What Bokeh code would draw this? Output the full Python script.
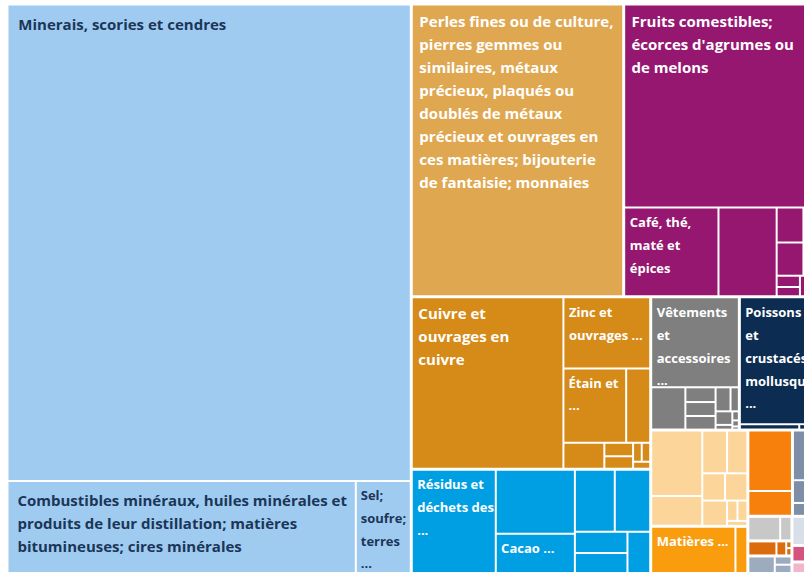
from bokeh.plotting import figure
from bokeh.models import Range1d, ColumnDataSource
from bokeh.embed import file_html
from bokeh.resources import INLINE
from bokeh.core.properties import value

# ---------------- data (relative sizes) ----------------
group_names = [
    "Minerais / combustibles / sel", "Perles fines", "Fruits / café", "Cuivre / zinc / étain",
    "Résidus / cacao", "Vêtements", "Poissons", "Groupe pêche", "Matières",
    "Groupe orange", "Groupe ardoise", "Groupe gris clair", "Groupe orange foncé",
    "Groupe gris-bleu", "Groupe bleu pâle", "Groupe rose", "Groupe rose 2",
    "Groupe rose pâle", "Groupe rose très pâle",
]
group_colors = [
    "#a0cbf0", "#dfa74f", "#95176f", "#d68a18", "#009fe3", "#7f7f7f", "#0c2c52",
    "#fcd59b", "#f99d0e", "#f77f0b", "#7f8ea7", "#c8c8c8", "#db6b0c", "#9dabbf",
    "#d8dfe8", "#d4547f", "#e07aa0", "#f2b6ca", "#f7d3df",
]
group_text_colors = ["#1b3658"] + ["#ffffff"] * 18

leaf_values = [
    [192066, 32062, 5060],
    [61904],
    [39687, 8410, 5189, 945, 550, 891, 518, 264, 216, 200, 193],
    [26144, 6220, 4686, 1795, 1066, 389, 360, 165, 161, 120],
    [8757, 5123, 3124, 2500, 2219, 1128, 1059, 946],
    [8009, 1466, 451, 427, 418, 364, 203, 231, 80, 60, 40, 21],
    [10200, 330, 110],
    [3399, 1545, 1075, 881, 632, 619, 637, 215, 205, 102],
    [3995, 564],
    [2715, 1112],
    [1350, 621, 200, 151],
    [796, 282],
    [430, 150, 38, 42],
    [472, 149, 149],
    [798],
    [275],
    [179],
    [173],
    [143],
]

label_group = [0, 0, 0, 1, 2, 2, 3, 3, 3, 5, 6, 4, 4, 8]
label_leaf = [0, 1, 2, 0, 0, 1, 0, 1, 2, 0, 0, 0, 2, 0]
label_text = [
    "Minerais, scories et cendres",
    "Combustibles minéraux, huiles minérales et\nproduits de leur distillation; matières\nbitumineuses; cires minérales",
    "Sel;\nsoufre;\nterres\n...",
    "Perles fines ou de culture,\npierres gemmes ou\nsimilaires, métaux\nprécieux, plaqués ou\ndoublés de métaux\nprécieux et ouvrages en\nces matières; bijouterie\nde fantaisie; monnaies",
    "Fruits comestibles;\nécorces d'agrumes ou\nde melons",
    "Café, thé,\nmaté et\népices",
    "Cuivre et\nouvrages en\ncuivre",
    "Zinc et\nouvrages ...",
    "Étain et\n...",
    "Vêtements\net\naccessoires\n...",
    "Poissons\net\ncrustacés,\nmollusques\n...",
    "Résidus et\ndéchets des\n...",
    "Cacao ...",
    "Matières ...",
]

# ---------------- layout (squarified, golden ratio) ----------------
PHI = (1 + 5 ** 0.5) / 2
PLOT_W, PLOT_H = 812.5, 569.5
GROUP_INSET, LEAF_INSET = 0.5, 1.0


def squarify(vals, x0, y0, x1, y1):
    out = [None] * len(vals)
    total = float(sum(vals))
    n = len(vals)
    i0 = 0
    while i0 < n:
        dx, dy = x1 - x0, y1 - y0
        s = vals[i0]
        mn = mx = s
        alpha = max(dy / dx, dx / dy) / (total * PHI)
        beta = s * s * alpha
        best = max(mx / beta, beta / mn)
        i1 = i0 + 1
        while i1 < n:
            v = vals[i1]
            s2 = s + v
            mn2, mx2 = min(mn, v), max(mx, v)
            beta = s2 * s2 * alpha
            r = max(mx2 / beta, beta / mn2)
            if r > best:
                break
            s, mn, mx, best = s2, mn2, mx2, r
            i1 += 1
        last = i1 >= n
        if dx < dy:
            yb = y1 if last else y0 + dy * s / total
            xx = x0
            for k in range(i0, i1):
                w = dx * vals[k] / s
                out[k] = (xx, y0, xx + w, yb)
                xx += w
            y0 = yb
        else:
            xb = x1 if last else x0 + dx * s / total
            yy = y0
            for k in range(i0, i1):
                h = dy * vals[k] / s
                out[k] = (x0, yy, xb, yy + h)
                yy += h
            x0 = xb
        total -= s
        i0 = i1
    return out


group_totals = [sum(v) for v in leaf_values]
group_rects = squarify(group_totals, 0, 0, PLOT_W, PLOT_H)

L, R, T, B, C = [], [], [], [], []
leaf_rects = []
for gi, (gx0, gy0, gx1, gy1) in enumerate(group_rects):
    rects = squarify(leaf_values[gi], gx0 + GROUP_INSET, gy0 + GROUP_INSET,
                     gx1 - GROUP_INSET, gy1 - GROUP_INSET)
    leaf_rects.append(rects)
    for (x0, y0, x1, y1) in rects:
        L.append(x0 + LEAF_INSET)
        R.append(x1 - LEAF_INSET)
        T.append(y0 + LEAF_INSET)
        B.append(y1 - LEAF_INSET)
        C.append(group_colors[gi])

p = figure(width=804, height=573, output_backend="svg", toolbar_location=None,
           x_range=Range1d(-6.5, 797.5), y_range=Range1d(569.5, -3.5),
           min_border=0, x_axis_location=None, y_axis_location=None,
           background_fill_color="white", border_fill_color="white")
p.outline_line_color = None
p.grid.visible = False

p.quad(left=L, right=R, top=T, bottom=B, fill_color=C, line_color=None)

LINE_H = 23.0
tx, ty, tt, tc, ts = [], [], [], [], []
for g, k, text in zip(label_group, label_leaf, label_text):
    x0, y0, x1, y1 = leaf_rects[g][k]
    w = x1 - x0
    area = w * (y1 - y0)
    size = "15px" if area > 15000 else "13px"
    pad_x = 4.0 + 0.017 * w
    pad_y = 13.0 + 0.017 * w
    for i, line in enumerate(text.split("\n")):
        tx.append(x0 + pad_x)
        ty.append(y0 + pad_y + i * LINE_H)
        tt.append(line)
        tc.append(group_text_colors[g])
        ts.append(size)

src = ColumnDataSource(dict(x=tx, y=ty, text=tt, color=tc, size=ts))
p.text(x="x", y="y", text="text", source=src, text_color="color",
       text_font=value("Open Sans"), text_font_style="bold",
       text_font_size="size", text_baseline="middle", text_align="left")

open("out.html", "w").write(file_html(p, INLINE))
